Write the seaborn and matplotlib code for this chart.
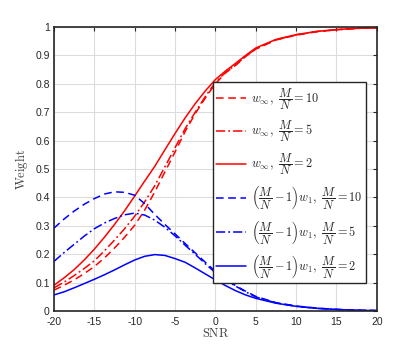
import numpy as np
import matplotlib
matplotlib.use("Agg")
import matplotlib.pyplot as plt
import seaborn as sns

# SNR grid (dB) and weights
snr = [-20, -18.75, -17.5, -16.25, -15, -13.75, -12.5, -11.25, -10, -8.75, -7.5, -6.25,
       -5, -3.75, -2.5, -1.25, 0, 1.25, 2.5, 3.75, 5, 7.5, 10, 12.5, 15, 17.5, 20]

w_inf_10 = [0.074, 0.091, 0.110, 0.132, 0.157, 0.187, 0.222, 0.260, 0.302, 0.356, 0.420, 0.490,
            0.560, 0.632, 0.695, 0.750, 0.800, 0.838, 0.865, 0.896, 0.922, 0.954, 0.971, 0.983, 0.990, 0.995, 0.997]
w_inf_5 = [0.082, 0.102, 0.125, 0.150, 0.177, 0.212, 0.250, 0.290, 0.334, 0.385, 0.442, 0.508,
           0.575, 0.642, 0.700, 0.755, 0.805, 0.840, 0.866, 0.897, 0.923, 0.955, 0.972, 0.984, 0.990, 0.995, 0.997]
w_inf_2 = [0.091, 0.117, 0.146, 0.180, 0.218, 0.260, 0.305, 0.353, 0.405, 0.458, 0.510, 0.568,
           0.625, 0.680, 0.730, 0.775, 0.815, 0.845, 0.872, 0.900, 0.926, 0.956, 0.973, 0.984, 0.991, 0.995, 0.997]

w1_10 = [0.292, 0.324, 0.352, 0.376, 0.396, 0.412, 0.420, 0.418, 0.408, 0.378, 0.340, 0.305,
         0.272, 0.238, 0.205, 0.172, 0.140, 0.113, 0.090, 0.070, 0.052, 0.030, 0.018, 0.011, 0.006, 0.004, 0.002]
w1_5 = [0.175, 0.206, 0.235, 0.264, 0.290, 0.310, 0.326, 0.339, 0.345, 0.338, 0.320, 0.295,
        0.265, 0.232, 0.200, 0.167, 0.135, 0.110, 0.088, 0.068, 0.050, 0.029, 0.017, 0.010, 0.006, 0.003, 0.002]
w1_2 = [0.057, 0.068, 0.082, 0.097, 0.112, 0.128, 0.145, 0.163, 0.180, 0.193, 0.199, 0.196,
        0.185, 0.172, 0.152, 0.131, 0.110, 0.090, 0.072, 0.057, 0.045, 0.028, 0.017, 0.010, 0.006, 0.003, 0.002]

labels = [
    r"$w_{\infty},\ \dfrac{M}{N}=10$",
    r"$w_{\infty},\ \dfrac{M}{N}=5$",
    r"$w_{\infty},\ \dfrac{M}{N}=2$",
    r"$\left(\dfrac{M}{N}-1\right)w_1,\ \dfrac{M}{N}=10$",
    r"$\left(\dfrac{M}{N}-1\right)w_1,\ \dfrac{M}{N}=5$",
    r"$\left(\dfrac{M}{N}-1\right)w_1,\ \dfrac{M}{N}=2$",
]
series = [w_inf_10, w_inf_5, w_inf_2, w1_10, w1_5, w1_2]
colors = ["#ff0000"] * 3 + ["#0000ff"] * 3
styles = [(0, (5, 3)), (0, (6, 2, 1.2, 2)), "-"] * 2

sns.set_style("whitegrid")
plt.rcParams["font.family"] = ["Liberation Sans", "DejaVu Sans"]
plt.rcParams["mathtext.fontset"] = "cm"
plt.rcParams["axes.unicode_minus"] = False

fig = plt.figure(figsize=(4.15, 3.5), dpi=100)
ax = fig.add_axes([0.130, 0.111, 0.778, 0.812])

for vals, lab, c, ls in zip(series, labels, colors, styles):
    sns.lineplot(x=snr, y=vals, color=c, linestyle=ls, linewidth=1.1, label=lab, ax=ax)

ax.set_xlim(-20, 20)
ax.set_ylim(0, 1)
ax.set_xticks(np.arange(-20, 21, 5))
ax.set_yticks(np.arange(0, 1.01, 0.1))
ax.set_yticklabels(["0", "0.1", "0.2", "0.3", "0.4", "0.5", "0.6", "0.7", "0.8", "0.9", "1"])
ax.tick_params(labelsize=7.5, direction="in", length=3, width=0.8, top=True, right=True, colors="#262626")
ax.tick_params(axis="x", pad=4)
ax.tick_params(axis="y", pad=3)
ax.grid(True, color="#dcdcdc", linewidth=0.8)
for s in ax.spines.values():
    s.set_color("#262626")
    s.set_linewidth(1.2)

ax.set_xlabel(r"$\mathrm{SNR}$", fontsize=9, labelpad=0, color="#404040")
ax.set_ylabel(r"$\mathrm{Weight}$", fontsize=9, labelpad=4, color="#404040")

leg = ax.legend(loc="upper left", bbox_to_anchor=(0.492, 0.806), fontsize=8.8,
                frameon=True, fancybox=False, framealpha=1, edgecolor="#262626",
                handlelength=2.4, handletextpad=0.4, borderpad=0.3, labelspacing=0.58,
                borderaxespad=0)
leg.get_frame().set_linewidth(1.0)

fig.savefig("out.png", dpi=100)
